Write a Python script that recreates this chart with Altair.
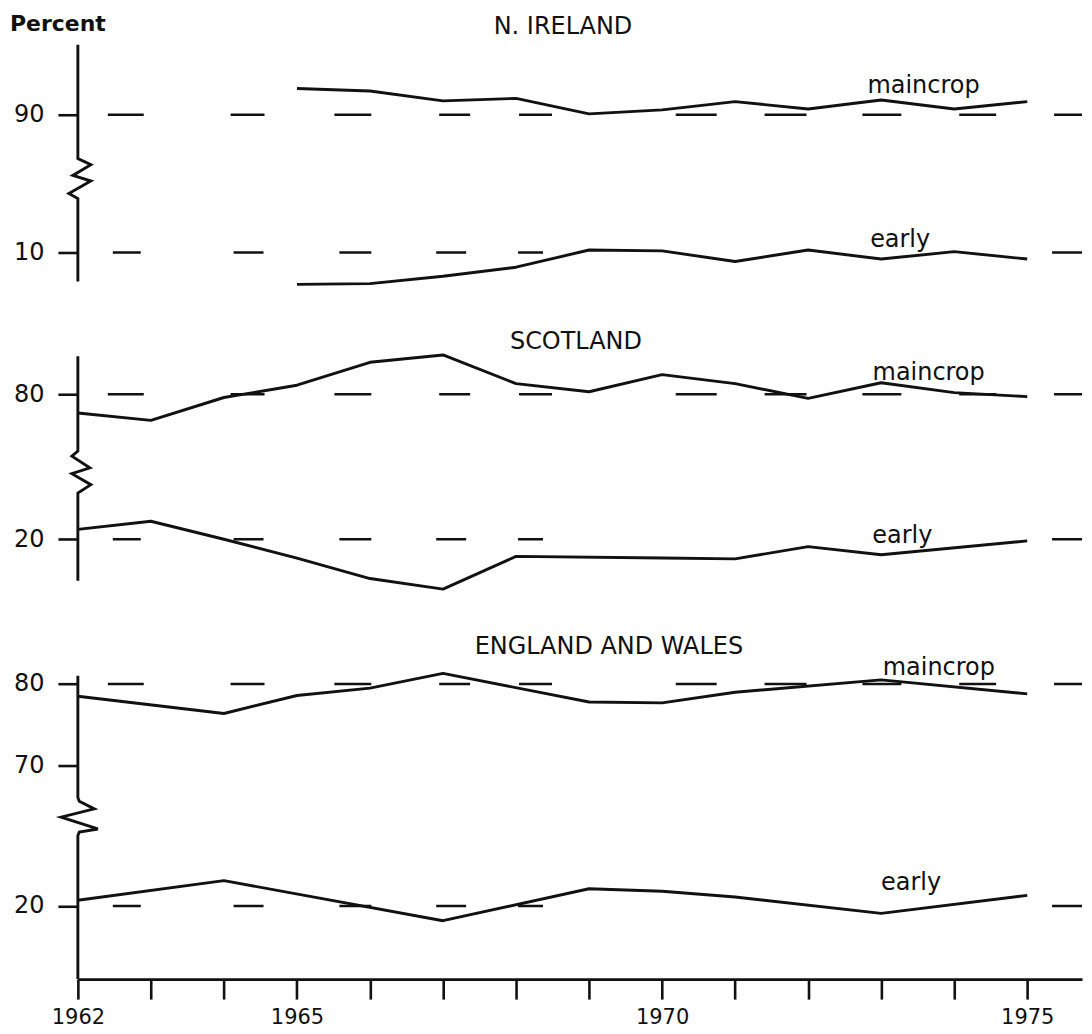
import altair as alt
import pandas as pd

# ---------------- data (percent of potato area) ----------------
ni_years = [1965, 1966, 1967, 1968, 1969, 1970, 1971, 1972, 1973, 1974, 1975]
ni_maincrop = [93.2, 92.9, 91.7, 92.0, 90.1, 90.6, 91.6, 90.7, 91.8, 90.7, 91.6]
ni_early = [6.1, 6.2, 7.1, 8.2, 10.3, 10.2, 8.9, 10.3, 9.2, 10.1, 9.2]

sc_main_years = [1962, 1963, 1964, 1965, 1966, 1967, 1968, 1969, 1970, 1971, 1972, 1973, 1974, 1975]
sc_maincrop = [77.7, 76.8, 79.6, 81.1, 83.9, 84.8, 81.3, 80.3, 82.4, 81.3, 79.5, 81.4, 80.2, 79.7]
sc_early_years = [1962, 1963, 1964, 1965, 1966, 1967, 1968, 1970, 1971, 1972, 1973, 1975]
sc_early = [21.2, 22.2, 20.0, 17.7, 15.2, 13.9, 17.9, 17.7, 17.6, 19.1, 18.1, 19.8]

ew_main_years = [1962, 1964, 1965, 1966, 1967, 1969, 1970, 1971, 1973, 1975]
ew_maincrop = [78.5, 76.4, 78.6, 79.5, 81.3, 77.8, 77.7, 79.0, 80.5, 78.8]
ew_early_years = [1962, 1964, 1967, 1969, 1970, 1971, 1973, 1975]
ew_early = [20.7, 23.1, 18.2, 22.1, 21.8, 21.1, 19.1, 21.3]

year_ticks = list(range(1962, 1976))
year_labels = [1962, 1965, 1970, 1975]

# ---------------- layout / style ----------------
X0, X1 = 1962, 1975.75
W = 1006
PXY = W / (X1 - X0)
INK = "#111111"
FONT = "DejaVu Sans"

x_scale = alt.Scale(domain=[X0, X1], nice=False, zero=False)

panels = [
    dict(
        title="N. IRELAND", title_x=486, title_y=-4,
        height=316, lo=60.85, hi=99.39, shift=63.17, brk=77.0,
        main=(ni_years, ni_maincrop), early=(ni_years, ni_early),
        refs=[("u90", 90, [0, 30, 36, 87, 34, 70, 37, 68, 31, 49, 33, 124, 41, 48, 42, 56, 39, 58, 37, 58, 60, 100]),
              ("l10", 10, [0, 35, 28, 93, 30, 76, 32, 65, 30, 52, 25, 510, 40, 100])],
        ticks=[(90, False), (10, True)],
        axis=(98.54, 84.63, 79.76, 69.63),
        zig=[(0, 0), (13, 0.15), (-5, 0.42), (13, 0.56), (-9, 0.875), (0, 1.0)],
        lab_main=(1973.58, 92.62), lab_early=(1973.26, 10.61),
    ),
    dict(
        title="SCOTLAND", title_x=499, title_y=-4,
        height=305, lo=47.80, hi=85.0, shift=42.28, brk=70.0,
        main=(sc_main_years, sc_maincrop), early=(sc_early_years, sc_early),
        refs=[("u80", 80, [0, 44, 41, 136, 38, 71, 37, 74, 36, 98, 40, 154, 40, 163, 45, 100]),
              ("l20", 20, [0, 51, 41, 104, 38, 72, 28, 47, 25, 56, 30, 71, 29, 68, 29, 63, 34, 72, 21, 100, 40, 100])],
        ticks=[(80, False), (20, True)],
        axis=(84.63, 73.05, 67.93, 57.20),
        zig=[(0, 0), (-6, 0.12), (12, 0.4), (-6, 0.54), (13, 0.8), (0, 1.0)],
        lab_main=(1973.65, 81.79), lab_early=(1973.29, 19.59),
    ),
    dict(
        title="ENGLAND AND WALES", title_x=532, title_y=-4,
        height=322, lo=43.94, hi=83.21, shift=32.88, brk=63.8,
        main=(ew_main_years, ew_maincrop), early=(ew_early_years, ew_early),
        refs=[("u80", 80, [0, 55, 36, 85, 37, 136, 32, 117, 35, 72, 23, 152, 42, 137, 45, 100]),
              ("l20", 20, [0, 85, 44, 75, 25, 126, 28, 117, 33, 74, 37, 251, 35, 57, 20, 100])],
        ticks=[(80, False), (70, False), (20, True)],
        axis=(81.02, 66.14, 61.50, 43.94),
        zig=[(0, 0), (1.4, 0.1), (16.5, 0.3), (-16.8, 0.52), (20, 0.83), (1.4, 0.91), (0, 1.0)],
        lab_main=(1973.79, 81.14), lab_early=(1973.41, 22.0),
    ),
]


def make_panel(p, last):
    shift = p["shift"]
    y_scale = alt.Scale(domain=[p["lo"], p["hi"]], nice=False, zero=False)
    tick_vals = [v + (shift if low else 0) for v, low in p["ticks"]]
    y_axis = alt.Axis(
        values=tick_vals,
        labelExpr=f"datum.value > {p['brk']} ? format(datum.value, '.0f') : format(datum.value - {shift}, '.0f')",
        domain=False, grid=False, ticks=True, tickSize=20, tickWidth=2.6, tickColor=INK,
        labelFontSize=24, labelFont=FONT, labelColor=INK, labelPadding=14,
        title=None, minExtent=70, maxExtent=70,
    )
    if last:
        x_axis = alt.Axis(
            values=year_ticks,
            labelExpr="indexof(" + str(year_labels) + ", datum.value) >= 0 ? format(datum.value, 'd') : ''",
            domain=True, domainWidth=2.8, domainColor=INK, grid=False,
            tickSize=20, tickWidth=2.6, tickColor=INK,
            labelFontSize=21, labelFont=FONT, labelColor=INK, labelPadding=7,
            labelOverlap=False, labelFlush=False, title=None,
        )
    else:
        x_axis = None

    def X(field):
        return alt.X(field, type="quantitative", scale=x_scale, axis=x_axis)

    def Y(field):
        return alt.Y(field, type="quantitative", scale=y_scale, axis=y_axis)

    # data lines
    rows = []
    for yr, v in zip(*p["main"]):
        rows.append({"year": yr, "value": v, "series": "maincrop"})
    for yr, v in zip(*p["early"]):
        rows.append({"year": yr, "value": v, "series": "early"})
    df = pd.DataFrame(rows)
    lines = (
        alt.Chart(df)
        .transform_calculate(disp=f"datum.series == 'early' ? datum.value + {shift} : datum.value")
        .mark_line(color=INK, strokeWidth=2.9, strokeJoin="round")
        .encode(x=X("year"), y=Y("disp"), detail="series:N")
    )

    # dashed reference lines
    ref_df = pd.DataFrame({
        "key": [r[0] for r in p["refs"]],
        "yv": [r[1] + (shift if r[0].startswith("l") else 0) for r in p["refs"]],
    })
    refs = (
        alt.Chart(ref_df)
        .mark_rule(color=INK, strokeWidth=2.7)
        .encode(
            y=Y("yv"),
            x=alt.datum(X0, scale=x_scale, axis=x_axis),
            x2=alt.datum(X1),
            strokeDash=alt.StrokeDash(
                "key:N",
                scale=alt.Scale(domain=[r[0] for r in p["refs"]], range=[r[2] for r in p["refs"]]),
                legend=None,
            ),
        )
    )

    # broken y axis line with zigzag
    top, btop, bbot, bottom = p["axis"]
    pts = [(0.0, top), (0.0, btop)]
    for dx, f in p["zig"]:
        pts.append((dx, btop - f * (btop - bbot)))
    pts += [(0.0, bbot), (0.0, bottom)]
    ax_df = pd.DataFrame({
        "x": [X0 + dx / PXY for dx, _ in pts],
        "y": [y for _, y in pts],
        "o": list(range(len(pts))),
    })
    axis_line = (
        alt.Chart(ax_df)
        .mark_line(color=INK, strokeWidth=2.9, strokeJoin="miter")
        .encode(x=X("x"), y=Y("y"), order="o:Q")
    )

    # series labels
    lab_df = pd.DataFrame({
        "t": ["maincrop", "early"],
        "x": [p["lab_main"][0], p["lab_early"][0]],
        "v": [p["lab_main"][1], p["lab_early"][1] + shift],
    })
    labels = (
        alt.Chart(lab_df)
        .mark_text(font=FONT, fontSize=24, color=INK, align="center", baseline="alphabetic")
        .encode(x=X("x"), y=Y("v"), text="t:N")
    )

    one = pd.DataFrame({"a": [0]})
    title = (
        alt.Chart(one)
        .mark_text(text=p["title"], font=FONT, fontSize=24, color=INK, align="center", baseline="alphabetic")
        .encode(x=alt.value(p["title_x"]), y=alt.value(p["title_y"]))
    )
    layers = [refs, lines, axis_line, labels, title]
    if p["title"] == "N. IRELAND":
        pct = (
            alt.Chart(one)
            .mark_text(text="Percent", font=FONT, fontSize=22, fontWeight="bold", color=INK,
                       align="left", baseline="alphabetic")
            .encode(x=alt.value(-68), y=alt.value(-7))
        )
        layers.append(pct)
    return alt.layer(*layers).properties(width=W, height=p["height"])


chart = (
    alt.vconcat(*[make_panel(p, i == 2) for i, p in enumerate(panels)], spacing=0, bounds="flush")
    .properties(padding={"left": 0, "top": 4, "right": 0, "bottom": 0}, background="white")
    .configure_view(stroke=None)
)

chart.save("out.html", embed_options={"renderer": "svg", "actions": False})
